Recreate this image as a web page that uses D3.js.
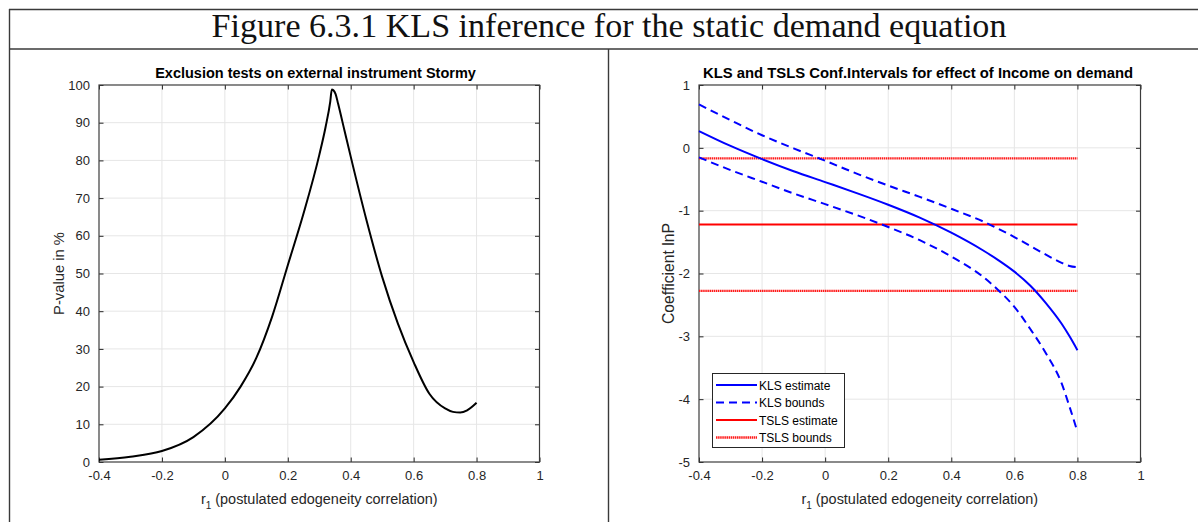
<!DOCTYPE html>
<html lang="en">
<head>
<meta charset="UTF-8">
<title>Figure 6.3.1</title>
<script src="https://d3js.org/d3.v7.min.js"></script>
<style>
    body { margin: 0; background: #fff; }
    .tick line { stroke: #262626; }
    .domain { display: none; }
</style>
</head>
<body>
<div id="chart"></div>
<script>
    // ---- data ----
    const figTitle = "Figure 6.3.1 KLS inference for the static demand equation";

    // left panel: p-value of exclusion test
    const pvalR = [-0.4, -0.3, -0.2, -0.1, 0, 0.05, 0.1, 0.15, 0.2, 0.25, 0.3, 0.32, 0.335, 0.34, 0.345,
        0.352, 0.36, 0.38, 0.4, 0.45, 0.5, 0.55, 0.6, 0.65, 0.7, 0.725, 0.748, 0.77, 0.8];
    const pvalue = [0.6, 1.4, 2.9, 6.6, 14.2, 20.0, 27.6, 38.5, 52.2, 65.9, 81.4, 88.8, 95.6, 98.8, 98.6,
        97.6, 95, 88, 81, 64.2, 49.1, 36.7, 26.5, 18.1, 14.2, 13.3, 13.1, 13.7, 15.7];

    // right panel: KLS and TSLS coefficient on lnP
    const coefR = [-0.4, -0.3, -0.2, -0.1, 0, 0.1, 0.2, 0.3, 0.4, 0.5, 0.55, 0.6, 0.65, 0.7, 0.75, 0.775, 0.8];
    const klsEst = [0.267, 0.03, -0.18, -0.372, -0.545, -0.72, -0.905, -1.11, -1.35, -1.63, -1.79, -1.97,
        -2.19, -2.47, -2.8, -3.0, -3.22];
    const klsUpper = [0.69, 0.44, 0.2, -0.009, -0.205, -0.41, -0.6, -0.78, -0.97, -1.17, -1.29, -1.42,
        -1.56, -1.7, -1.83, -1.88, -1.9];
    const klsLower = [-0.152, -0.354, -0.54, -0.726, -0.896, -1.07, -1.26, -1.47, -1.73, -2.05, -2.27, -2.53,
        -2.88, -3.27, -3.75, -4.12, -4.52];
    const tslsRange = [-0.4, 0.8];
    const tslsEst = -1.22;
    const tslsBounds = [-0.168, -2.276];

    const xTicks = [-0.4, -0.2, 0, 0.2, 0.4, 0.6, 0.8, 1];
    const pTicks = d3.range(0, 101, 10);
    const cTicks = [-5, -4, -3, -2, -1, 0, 1];
    const legendLabels = ["KLS estimate", "KLS bounds", "TSLS estimate", "TSLS bounds"];

    const W = 1198, H = 522;
    const sans = "'Liberation Sans', Arial, sans-serif";
    const svg = d3.select("#chart").append("svg")
        .attr("width", W).attr("height", H);

    // table frame round the figure
    const frame = svg.append("g").attr("stroke", "#3a3a3a").attr("stroke-width", 1.4).attr("fill", "none");
    frame.append("line").attr("x1", 9).attr("x2", W).attr("y1", 9.5).attr("y2", 9.5);
    frame.append("line").attr("x1", 9).attr("x2", W).attr("y1", 49).attr("y2", 49);
    frame.append("line").attr("x1", 9.5).attr("x2", 9.5).attr("y1", 9).attr("y2", H);
    frame.append("line").attr("x1", 608.5).attr("x2", 608.5).attr("y1", 49).attr("y2", H);

    // scale a text so it takes the width it has in the picture
    function fitWidth(sel, size, width) {
        const w = sel.node().getComputedTextLength();
        sel.style("font-size", (size * width / w).toFixed(2) + "px");
    }

    const title = svg.append("text")
        .attr("x", 609).attr("y", 37)
        .attr("text-anchor", "middle")
        .style("font-family", "'Liberation Serif', 'DejaVu Serif', serif")
        .style("font-size", "28px")
        .attr("fill", "#111")
        .text(figTitle);
    fitWidth(title, 28, 795);

    const fmt = d => String(d);

    function styleTicks(sel) {
        sel.selectAll("text")
            .style("font-family", sans).style("font-size", "13px").attr("fill", "#262626");
    }

    function drawPanel(box, yDomain, yTicks, heading, headW, yLabel, yLabW) {
        const x = d3.scaleLinear().domain([-0.4, 1]).range([box.x0, box.x1]);
        const y = d3.scaleLinear().domain(yDomain).range([box.y1, box.y0]);
        const g = svg.append("g");

        // grid
        g.append("g").selectAll("line").data(xTicks.slice(1, -1)).join("line")
            .attr("x1", d => x(d)).attr("x2", d => x(d))
            .attr("y1", box.y0).attr("y2", box.y1)
            .attr("stroke", "#e6e6e6").attr("stroke-width", 1);
        g.append("g").selectAll("line").data(yTicks.slice(1, -1)).join("line")
            .attr("x1", box.x0).attr("x2", box.x1)
            .attr("y1", d => y(d)).attr("y2", d => y(d))
            .attr("stroke", "#e6e6e6").attr("stroke-width", 1);

        // axes, ticks pointing inwards (box on)
        g.append("g").attr("transform", `translate(0,${box.y1})`)
            .call(d3.axisBottom(x).tickValues(xTicks).tickFormat(fmt).tickSizeInner(-4.5).tickSizeOuter(0).tickPadding(9))
            .call(styleTicks);
        g.append("g").attr("transform", `translate(0,${box.y0})`)
            .call(d3.axisTop(x).tickValues(xTicks).tickFormat("").tickSizeInner(-4.5).tickSizeOuter(0));
        g.append("g").attr("transform", `translate(${box.x0},0)`)
            .call(d3.axisLeft(y).tickValues(yTicks).tickFormat(fmt).tickSizeInner(-4.5).tickSizeOuter(0).tickPadding(9))
            .call(styleTicks);
        g.append("g").attr("transform", `translate(${box.x1},0)`)
            .call(d3.axisRight(y).tickValues(yTicks).tickFormat("").tickSizeInner(-4.5).tickSizeOuter(0));

        g.append("rect")
            .attr("x", box.x0).attr("y", box.y0)
            .attr("width", box.x1 - box.x0).attr("height", box.y1 - box.y0)
            .attr("fill", "none").attr("stroke", "#3c3c3c").attr("stroke-width", 1.2);

        const cx = (box.x0 + box.x1) / 2;
        const ht = g.append("text")
            .attr("x", box.headX).attr("y", box.y0 - 7)
            .attr("text-anchor", "middle")
            .style("font-family", sans)
            .style("font-size", "13px").style("font-weight", "bold")
            .attr("fill", "#000")
            .text(heading);
        fitWidth(ht, 13, headW);

        const xl = g.append("text")
            .attr("x", cx).attr("y", box.y1 + 42)
            .attr("text-anchor", "middle")
            .style("font-family", sans)
            .style("font-size", "14px")
            .attr("fill", "#262626");
        xl.append("tspan").text("r");
        xl.append("tspan").attr("dy", 5).style("font-size", "10px").text("1");
        xl.append("tspan").attr("dy", -5).text("  (postulated edogeneity correlation)");
        fitWidth(xl, 14, 237);

        const yl = g.append("text")
            .attr("transform", `translate(${box.x0 - box.yLabOff},${(box.y0 + box.y1) / 2}) rotate(-90)`)
            .attr("text-anchor", "middle")
            .style("font-family", sans)
            .style("font-size", "14px")
            .attr("fill", "#262626")
            .text(yLabel);
        fitWidth(yl, 14, yLabW);

        return { g, x, y };
    }

    // ---- left panel ----
    const left = drawPanel({ x0: 99, x1: 539.5, y0: 85, y1: 462, headX: 315.5, yLabOff: 35 }, [0, 100], pTicks,
        "Exclusion tests on external instrument Stormy", 321, "P-value in %", 83);

    const pLine = d3.line()
        .x((d, i) => left.x(pvalR[i]))
        .y(d => left.y(d))
        .curve(d3.curveMonotoneX);
    left.g.append("path")
        .attr("d", pLine(pvalue))
        .attr("fill", "none").attr("stroke", "#000").attr("stroke-width", 2);

    // ---- right panel ----
    const right = drawPanel({ x0: 699, x1: 1140.5, y0: 85, y1: 462, headX: 918, yLabOff: 25 }, [-5, 1], cTicks,
        "KLS and TSLS Conf.Intervals for effect of Income on demand", 430, "Coefficient lnP", 101);

    const cLine = d3.line()
        .x((d, i) => right.x(coefR[i]))
        .y(d => right.y(d))
        .curve(d3.curveMonotoneX);

    const styles = [
        { stroke: "#0000ff", dash: null },
        { stroke: "#0000ff", dash: "8,5" },
        { stroke: "#ff0000", dash: null },
        { stroke: "#ff1a1a", dash: "1.5,0.6" }
    ];

    // TSLS lines
    tslsBounds.forEach(v => {
        right.g.append("line")
            .attr("x1", right.x(tslsRange[0])).attr("x2", right.x(tslsRange[1]))
            .attr("y1", right.y(v)).attr("y2", right.y(v))
            .attr("stroke", styles[3].stroke).attr("stroke-width", 2.4)
            .attr("stroke-dasharray", styles[3].dash);
    });
    right.g.append("line")
        .attr("x1", right.x(tslsRange[0])).attr("x2", right.x(tslsRange[1]))
        .attr("y1", right.y(tslsEst)).attr("y2", right.y(tslsEst))
        .attr("stroke", styles[2].stroke).attr("stroke-width", 2);

    // KLS lines
    [klsUpper, klsLower].forEach(arr => {
        right.g.append("path")
            .attr("d", cLine(arr))
            .attr("fill", "none").attr("stroke", styles[1].stroke).attr("stroke-width", 2)
            .attr("stroke-dasharray", styles[1].dash);
    });
    right.g.append("path")
        .attr("d", cLine(klsEst))
        .attr("fill", "none").attr("stroke", styles[0].stroke).attr("stroke-width", 2);

    // legend
    const lg = right.g.append("g");
    lg.append("rect")
        .attr("x", 712.5).attr("y", 373.5).attr("width", 132).attr("height", 74)
        .attr("fill", "#fff").attr("stroke", "#262626").attr("stroke-width", 1);
    legendLabels.forEach((lab, i) => {
        const yy = 385 + i * 17.5;
        lg.append("line")
            .attr("x1", 716).attr("x2", 757).attr("y1", yy).attr("y2", yy)
            .attr("stroke", styles[i].stroke)
            .attr("stroke-width", i === 3 ? 2.4 : 2)
            .attr("stroke-dasharray", styles[i].dash);
        lg.append("text")
            .attr("x", 759).attr("y", yy + 4.5)
            .style("font-family", sans)
            .style("font-size", "12px")
            .attr("fill", "#000")
            .text(lab);
    });
</script>
</body>
</html>
